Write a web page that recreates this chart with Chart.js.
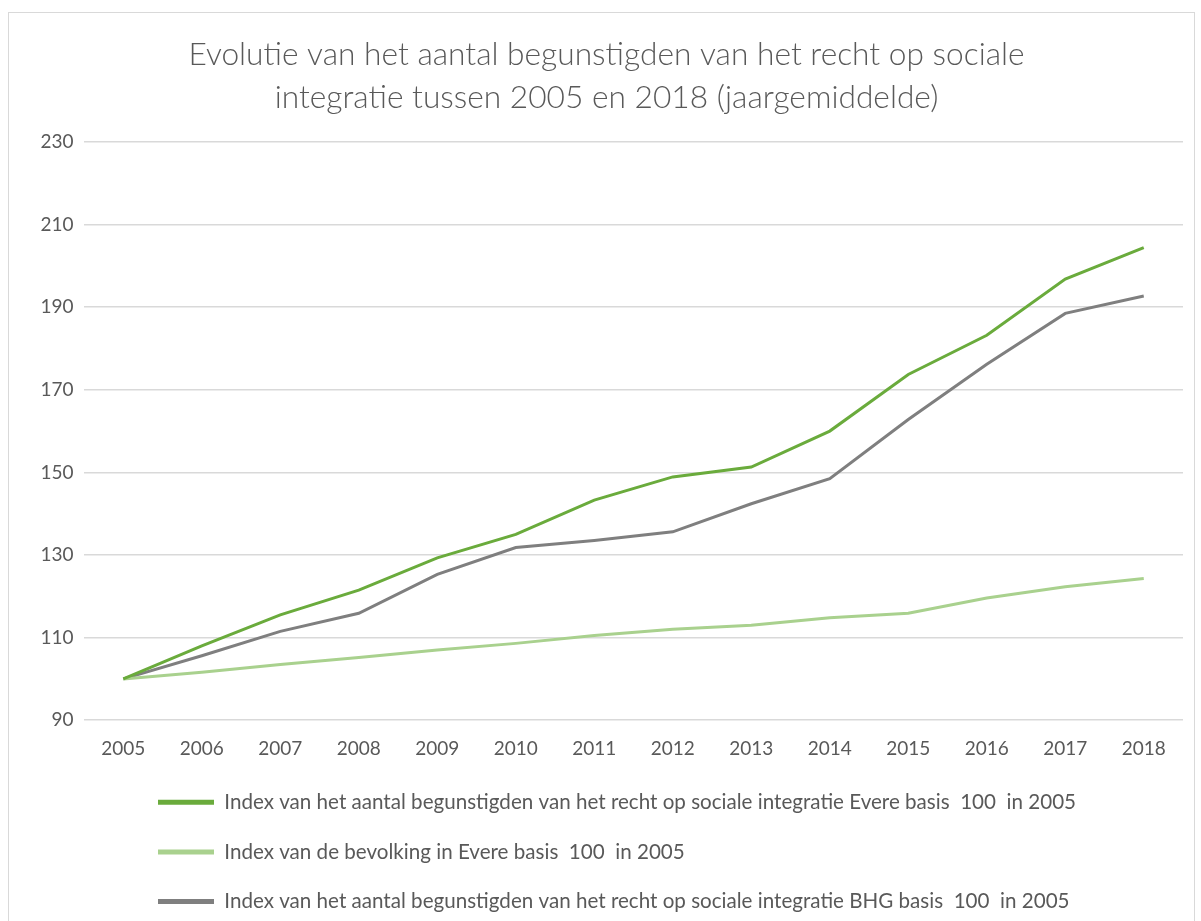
<!DOCTYPE html>
<html>
<head>
<meta charset="utf-8">
<script src="https://cdn.jsdelivr.net/npm/chart.js@4.4.1/dist/chart.umd.min.js"></script>
<style>
    html, body { margin: 0; padding: 0; background: #ffffff; }
    #frame {
        position: absolute; left: 8px; top: 12px;
        width: 1187px; height: 915px;
        border: 1px solid #d9d9d9; box-sizing: border-box;
    }
    #wrap { position: absolute; left: 0; top: 0; width: 1185px; height: 913px; }
</style>
</head>
<body>
<div id="frame"><div id="wrap"><canvas id="chart"></canvas></div></div>
<script>
// ---- data ----
const years = ["2005", "2006", "2007", "2008", "2009", "2010", "2011", "2012", "2013", "2014", "2015", "2016", "2017", "2018"];
const evereRis = [100, 108, 115.5, 121.5, 129.3, 135, 143.3, 148.9, 151.3, 160, 173.7, 183.2, 196.8, 204.4];
const evereBevolking = [100, 101.6, 103.5, 105.2, 107, 108.6, 110.5, 112, 113, 114.8, 115.9, 119.6, 122.3, 124.3];
const bhgRis = [100, 105.6, 111.5, 115.9, 125.3, 131.8, 133.5, 135.6, 142.4, 148.5, 162.8, 176.2, 188.5, 192.7];
const yTicks = [90, 110, 130, 150, 170, 190, 210, 230];

const seriesLabels = [
    "Index van het aantal begunstigden van het recht op sociale integratie Evere basis  100  in 2005",
    "Index van de bevolking in Evere basis  100  in 2005",
    "Index van het aantal begunstigden van het recht op sociale integratie BHG basis  100  in 2005"
];
const colors = ["#6aab3c", "#a9d18e", "#7f7f7f"];

const FONT = "Lato, 'Open Sans', sans-serif";
const TEXT = "#595959";

// legend rows sit further right and a bit higher than Chart.js puts them
const shiftLegend = {
    id: "shiftLegend",
    afterLayout(chart) {
        if (!chart.legend) return;
        chart.legend.left += 99;
        chart.legend.top -= 14;
    }
};

const ctx = document.getElementById("chart").getContext("2d");
new Chart(ctx, {
    type: "line",
    data: {
        labels: years,
        datasets: [evereRis, evereBevolking, bhgRis].map((values, i) => ({
            label: seriesLabels[i],
            data: values,
            borderColor: colors[i],
            backgroundColor: colors[i],
            borderWidth: 3,
            pointRadius: 0,
            tension: 0,
            fill: false
        }))
    },
    options: {
        responsive: true,
        maintainAspectRatio: false,
        animation: false,
        layout: { padding: { left: 21, right: 11, top: 0, bottom: 0 } },
        scales: {
            x: {
                offset: true,
                grid: { display: false, drawTicks: false },
                border: { display: false },
                ticks: { color: TEXT, font: { family: FONT, size: 19 }, padding: 17, maxRotation: 0 },
                afterFit: scale => { scale.paddingLeft = 0; scale.paddingRight = 0; }
            },
            y: {
                min: 90,
                max: 230,
                afterBuildTicks: axis => { axis.ticks = yTicks.map(v => ({ value: v })); },
                grid: { color: "#d9d9d9", lineWidth: 1.5, drawTicks: false },
                border: { display: false },
                ticks: { color: TEXT, font: { family: FONT, size: 19 }, padding: 10.5 }
            }
        },
        plugins: {
            title: {
                display: true,
                text: ["Evolutie van het aantal begunstigden van het recht op sociale",
                       "integratie tussen 2005 en 2018 (jaargemiddelde)"],
                color: TEXT,
                font: { family: FONT, size: 31.7, weight: 300, lineHeight: 1.356 },
                padding: { top: 20, bottom: 23 }
            },
            legend: {
                position: "bottom",
                align: "start",
                maxHeight: 149,
                labels: {
                    color: TEXT,
                    font: { family: FONT, size: 20.6 },
                    boxWidth: 56,
                    boxHeight: 5,
                    padding: 29,
                    generateLabels: chart =>
                        Chart.defaults.plugins.legend.labels.generateLabels(chart)
                            .map(item => ({ ...item, lineWidth: 0 }))
                }
            },
            tooltip: { enabled: false }
        }
    },
    plugins: [shiftLegend]
});
</script>
</body>
</html>
